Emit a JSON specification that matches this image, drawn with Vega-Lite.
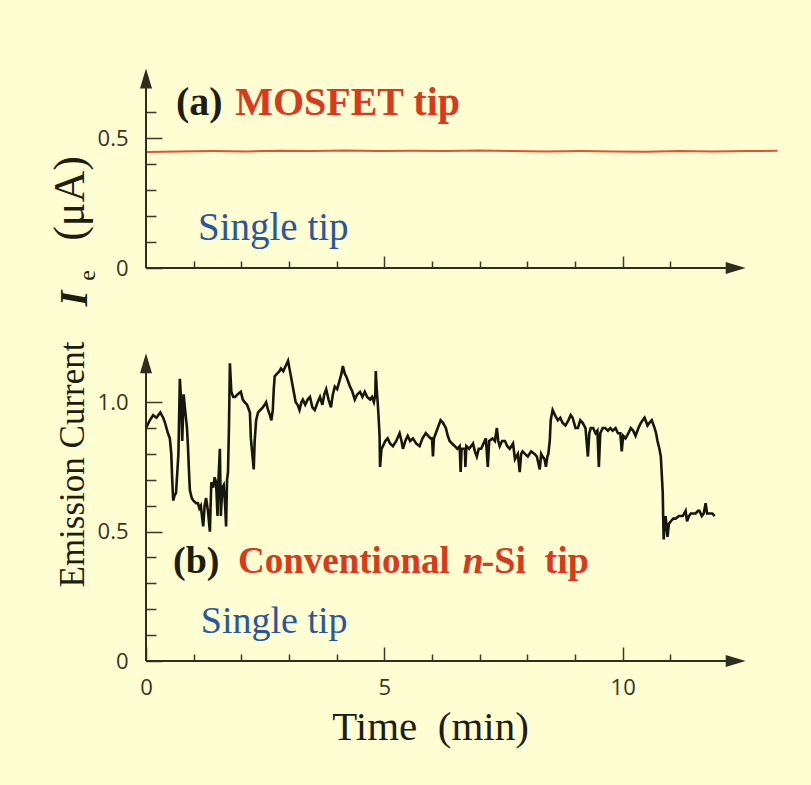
{
  "$schema": "https://vega.github.io/schema/vega-lite/v6.json",
  "background": "#fffdd2",
  "padding": {"left": 48, "top": 68, "right": 29, "bottom": 41},
  "spacing": 85,
  "bounds": "flush",
  "datasets": {
    "mosfet": [
      {"t": 0.0, "v": 0.447}, {"t": 0.7, "v": 0.449}, {"t": 1.4, "v": 0.450}, {"t": 2.1, "v": 0.449},
      {"t": 2.8, "v": 0.451}, {"t": 3.5, "v": 0.450}, {"t": 4.2, "v": 0.452}, {"t": 4.9, "v": 0.450},
      {"t": 5.6, "v": 0.451}, {"t": 6.3, "v": 0.450}, {"t": 7.0, "v": 0.452}, {"t": 7.7, "v": 0.450},
      {"t": 8.4, "v": 0.449}, {"t": 9.1, "v": 0.450}, {"t": 9.8, "v": 0.449}, {"t": 10.5, "v": 0.448},
      {"t": 11.2, "v": 0.450}, {"t": 11.9, "v": 0.449}, {"t": 12.6, "v": 0.450}, {"t": 13.25, "v": 0.451}
    ],
    "trace": [
      {"t": 0.00, "v": 0.90}, {"t": 0.08, "v": 0.93}, {"t": 0.15, "v": 0.95}, {"t": 0.22, "v": 0.94},
      {"t": 0.30, "v": 0.96}, {"t": 0.36, "v": 0.94}, {"t": 0.40, "v": 0.92}, {"t": 0.46, "v": 0.88},
      {"t": 0.50, "v": 0.86}, {"t": 0.53, "v": 0.80}, {"t": 0.55, "v": 0.70}, {"t": 0.57, "v": 0.62},
      {"t": 0.60, "v": 0.64}, {"t": 0.63, "v": 0.65}, {"t": 0.68, "v": 0.80}, {"t": 0.71, "v": 1.09},
      {"t": 0.74, "v": 1.00}, {"t": 0.76, "v": 0.85}, {"t": 0.79, "v": 1.03}, {"t": 0.82, "v": 0.97},
      {"t": 0.86, "v": 0.90}, {"t": 0.88, "v": 0.83}, {"t": 0.90, "v": 0.74}, {"t": 0.92, "v": 0.66},
      {"t": 0.96, "v": 0.63}, {"t": 0.99, "v": 0.62}, {"t": 1.05, "v": 0.61}, {"t": 1.09, "v": 0.61},
      {"t": 1.12, "v": 0.59}, {"t": 1.15, "v": 0.60}, {"t": 1.18, "v": 0.55}, {"t": 1.20, "v": 0.52},
      {"t": 1.23, "v": 0.60}, {"t": 1.26, "v": 0.63}, {"t": 1.30, "v": 0.58}, {"t": 1.34, "v": 0.50},
      {"t": 1.37, "v": 0.69}, {"t": 1.41, "v": 0.67}, {"t": 1.44, "v": 0.71}, {"t": 1.47, "v": 0.69},
      {"t": 1.50, "v": 0.56}, {"t": 1.52, "v": 0.70}, {"t": 1.55, "v": 0.82}, {"t": 1.57, "v": 0.56},
      {"t": 1.60, "v": 0.67}, {"t": 1.63, "v": 0.68}, {"t": 1.66, "v": 0.60}, {"t": 1.68, "v": 0.52},
      {"t": 1.70, "v": 0.70}, {"t": 1.72, "v": 0.73}, {"t": 1.74, "v": 0.90}, {"t": 1.76, "v": 1.15},
      {"t": 1.79, "v": 1.04}, {"t": 1.83, "v": 1.02}, {"t": 1.87, "v": 1.02}, {"t": 1.92, "v": 1.03},
      {"t": 1.99, "v": 1.04}, {"t": 2.03, "v": 1.01}, {"t": 2.07, "v": 1.00}, {"t": 2.12, "v": 0.99},
      {"t": 2.18, "v": 0.96}, {"t": 2.20, "v": 0.86}, {"t": 2.23, "v": 0.80}, {"t": 2.26, "v": 0.74},
      {"t": 2.28, "v": 0.85}, {"t": 2.31, "v": 0.93}, {"t": 2.35, "v": 0.96}, {"t": 2.40, "v": 0.97},
      {"t": 2.45, "v": 0.98}, {"t": 2.49, "v": 0.99}, {"t": 2.52, "v": 1.00}, {"t": 2.56, "v": 0.97},
      {"t": 2.60, "v": 0.95}, {"t": 2.63, "v": 0.93}, {"t": 2.66, "v": 0.97}, {"t": 2.68, "v": 1.05},
      {"t": 2.70, "v": 1.10}, {"t": 2.75, "v": 1.11}, {"t": 2.80, "v": 1.12}, {"t": 2.83, "v": 1.13},
      {"t": 2.88, "v": 1.12}, {"t": 2.93, "v": 1.14}, {"t": 2.98, "v": 1.16}, {"t": 3.02, "v": 1.12},
      {"t": 3.05, "v": 1.09}, {"t": 3.08, "v": 1.06}, {"t": 3.11, "v": 1.03}, {"t": 3.14, "v": 1.00},
      {"t": 3.18, "v": 0.99}, {"t": 3.22, "v": 0.97}, {"t": 3.26, "v": 1.00}, {"t": 3.29, "v": 1.01},
      {"t": 3.34, "v": 0.99}, {"t": 3.39, "v": 1.01}, {"t": 3.44, "v": 1.02}, {"t": 3.49, "v": 0.98},
      {"t": 3.54, "v": 0.97}, {"t": 3.60, "v": 1.00}, {"t": 3.65, "v": 1.02}, {"t": 3.70, "v": 0.99},
      {"t": 3.74, "v": 1.03}, {"t": 3.78, "v": 1.05}, {"t": 3.83, "v": 1.01}, {"t": 3.88, "v": 0.98},
      {"t": 3.92, "v": 1.03}, {"t": 3.96, "v": 1.06}, {"t": 4.01, "v": 1.05}, {"t": 4.07, "v": 1.09},
      {"t": 4.10, "v": 1.11}, {"t": 4.13, "v": 1.14}, {"t": 4.17, "v": 1.11}, {"t": 4.20, "v": 1.10},
      {"t": 4.24, "v": 1.08}, {"t": 4.28, "v": 1.06}, {"t": 4.33, "v": 1.04}, {"t": 4.38, "v": 1.01},
      {"t": 4.43, "v": 1.03}, {"t": 4.49, "v": 1.04}, {"t": 4.54, "v": 1.02}, {"t": 4.59, "v": 1.04},
      {"t": 4.64, "v": 1.02}, {"t": 4.70, "v": 1.01}, {"t": 4.74, "v": 1.02}, {"t": 4.78, "v": 1.00},
      {"t": 4.81, "v": 1.03}, {"t": 4.82, "v": 1.12}, {"t": 4.84, "v": 1.05}, {"t": 4.86, "v": 1.00},
      {"t": 4.88, "v": 0.94}, {"t": 4.90, "v": 0.87}, {"t": 4.91, "v": 0.75}, {"t": 4.94, "v": 0.82},
      {"t": 4.97, "v": 0.83}, {"t": 5.02, "v": 0.85}, {"t": 5.07, "v": 0.86}, {"t": 5.12, "v": 0.84},
      {"t": 5.18, "v": 0.83}, {"t": 5.25, "v": 0.85}, {"t": 5.32, "v": 0.88}, {"t": 5.36, "v": 0.85},
      {"t": 5.39, "v": 0.82}, {"t": 5.44, "v": 0.85}, {"t": 5.49, "v": 0.87}, {"t": 5.54, "v": 0.85},
      {"t": 5.60, "v": 0.86}, {"t": 5.67, "v": 0.84}, {"t": 5.74, "v": 0.83}, {"t": 5.80, "v": 0.86},
      {"t": 5.87, "v": 0.88}, {"t": 5.92, "v": 0.87}, {"t": 5.97, "v": 0.86}, {"t": 6.00, "v": 0.86},
      {"t": 6.02, "v": 0.79}, {"t": 6.04, "v": 0.86}, {"t": 6.06, "v": 0.87}, {"t": 6.12, "v": 0.90},
      {"t": 6.18, "v": 0.93}, {"t": 6.23, "v": 0.92}, {"t": 6.29, "v": 0.90}, {"t": 6.33, "v": 0.87},
      {"t": 6.37, "v": 0.85}, {"t": 6.42, "v": 0.84}, {"t": 6.48, "v": 0.83}, {"t": 6.53, "v": 0.82},
      {"t": 6.58, "v": 0.83}, {"t": 6.60, "v": 0.73}, {"t": 6.62, "v": 0.82}, {"t": 6.69, "v": 0.82},
      {"t": 6.70, "v": 0.75}, {"t": 6.72, "v": 0.83}, {"t": 6.78, "v": 0.82}, {"t": 6.86, "v": 0.84},
      {"t": 6.90, "v": 0.81}, {"t": 6.94, "v": 0.79}, {"t": 6.98, "v": 0.82}, {"t": 7.03, "v": 0.82},
      {"t": 7.08, "v": 0.84}, {"t": 7.13, "v": 0.86}, {"t": 7.17, "v": 0.75}, {"t": 7.20, "v": 0.85},
      {"t": 7.27, "v": 0.86}, {"t": 7.32, "v": 0.85}, {"t": 7.36, "v": 0.90}, {"t": 7.39, "v": 0.85},
      {"t": 7.42, "v": 0.83}, {"t": 7.47, "v": 0.85}, {"t": 7.53, "v": 0.85}, {"t": 7.58, "v": 0.83},
      {"t": 7.63, "v": 0.82}, {"t": 7.70, "v": 0.84}, {"t": 7.74, "v": 0.78}, {"t": 7.80, "v": 0.80},
      {"t": 7.84, "v": 0.73}, {"t": 7.87, "v": 0.80}, {"t": 7.90, "v": 0.81}, {"t": 7.95, "v": 0.80},
      {"t": 8.01, "v": 0.79}, {"t": 8.08, "v": 0.81}, {"t": 8.15, "v": 0.80}, {"t": 8.20, "v": 0.79},
      {"t": 8.26, "v": 0.74}, {"t": 8.29, "v": 0.80}, {"t": 8.32, "v": 0.79}, {"t": 8.36, "v": 0.78},
      {"t": 8.39, "v": 0.75}, {"t": 8.42, "v": 0.79}, {"t": 8.44, "v": 0.80}, {"t": 8.47, "v": 0.85},
      {"t": 8.49, "v": 0.93}, {"t": 8.53, "v": 0.97}, {"t": 8.58, "v": 0.95}, {"t": 8.64, "v": 0.93},
      {"t": 8.69, "v": 0.94}, {"t": 8.74, "v": 0.92}, {"t": 8.80, "v": 0.91}, {"t": 8.86, "v": 0.93},
      {"t": 8.91, "v": 0.95}, {"t": 8.95, "v": 0.94}, {"t": 9.01, "v": 0.90}, {"t": 9.06, "v": 0.90},
      {"t": 9.11, "v": 0.93}, {"t": 9.16, "v": 0.92}, {"t": 9.22, "v": 0.90}, {"t": 9.27, "v": 0.79},
      {"t": 9.30, "v": 0.88}, {"t": 9.33, "v": 0.90}, {"t": 9.38, "v": 0.90}, {"t": 9.43, "v": 0.88},
      {"t": 9.47, "v": 0.89}, {"t": 9.50, "v": 0.75}, {"t": 9.53, "v": 0.88}, {"t": 9.58, "v": 0.90},
      {"t": 9.63, "v": 0.90}, {"t": 9.69, "v": 0.89}, {"t": 9.74, "v": 0.90}, {"t": 9.79, "v": 0.89},
      {"t": 9.85, "v": 0.90}, {"t": 9.90, "v": 0.88}, {"t": 9.95, "v": 0.88}, {"t": 9.98, "v": 0.81},
      {"t": 10.01, "v": 0.87}, {"t": 10.06, "v": 0.86}, {"t": 10.12, "v": 0.88}, {"t": 10.17, "v": 0.90},
      {"t": 10.22, "v": 0.89}, {"t": 10.27, "v": 0.87}, {"t": 10.33, "v": 0.90}, {"t": 10.38, "v": 0.92},
      {"t": 10.42, "v": 0.93}, {"t": 10.46, "v": 0.94}, {"t": 10.52, "v": 0.91}, {"t": 10.56, "v": 0.92},
      {"t": 10.61, "v": 0.93}, {"t": 10.67, "v": 0.90}, {"t": 10.70, "v": 0.88}, {"t": 10.73, "v": 0.85},
      {"t": 10.77, "v": 0.82}, {"t": 10.80, "v": 0.79}, {"t": 10.82, "v": 0.72}, {"t": 10.84, "v": 0.65},
      {"t": 10.85, "v": 0.55}, {"t": 10.86, "v": 0.47}, {"t": 10.88, "v": 0.53}, {"t": 10.90, "v": 0.56},
      {"t": 10.92, "v": 0.52}, {"t": 10.94, "v": 0.48}, {"t": 10.97, "v": 0.53}, {"t": 11.01, "v": 0.54},
      {"t": 11.06, "v": 0.55}, {"t": 11.11, "v": 0.55}, {"t": 11.18, "v": 0.56}, {"t": 11.26, "v": 0.56},
      {"t": 11.32, "v": 0.58}, {"t": 11.35, "v": 0.54}, {"t": 11.39, "v": 0.56}, {"t": 11.43, "v": 0.57},
      {"t": 11.48, "v": 0.57}, {"t": 11.53, "v": 0.57}, {"t": 11.58, "v": 0.58}, {"t": 11.61, "v": 0.58},
      {"t": 11.66, "v": 0.56}, {"t": 11.70, "v": 0.57}, {"t": 11.74, "v": 0.61}, {"t": 11.77, "v": 0.57},
      {"t": 11.82, "v": 0.57}, {"t": 11.88, "v": 0.57}, {"t": 11.93, "v": 0.56}
    ]
  },
  "vconcat": [
    {
      "width": 634,
      "height": 200,
      "resolve": {"axis": {"x": "independent", "y": "independent"}},
      "layer": [
        {
          "data": {"name": "mosfet"},
          "mark": {"type": "line", "color": "#e2532c", "strokeWidth": 2, "clip": false},
          "encoding": {
            "x": {"field": "t", "type": "quantitative", "scale": {"domain": [0, 13.3], "nice": false, "zero": false},
                  "axis": {"orient": "bottom", "values": [1, 2, 3, 4, 6, 7, 8, 9, 11], "tickSize": -7, "labels": false, "title": null}},
            "y": {"field": "v", "type": "quantitative", "scale": {"domain": [0, 0.77], "nice": false},
                  "axis": {"orient": "left", "values": [0.1, 0.2, 0.3, 0.4, 0.6], "tickSize": -10, "labels": false,
                           "title": "e", "titleFontSize": 24, "titleX": -52, "titleY": 207,
                           "titleAngle": -90, "titleBaseline": "alphabetic", "titleAlign": "center"}}
          }
        },
        {
          "data": {"values": [{}]},
          "mark": {"type": "rule", "color": "#2e2e1e", "strokeWidth": 2},
          "encoding": {
            "x": {"datum": 0, "type": "quantitative",
                  "axis": {"orient": "bottom", "values": [5, 10], "tickSize": -12, "labels": false, "title": null}},
            "x2": {"datum": 12.2},
            "y": {"datum": 0, "type": "quantitative",
                  "axis": {"orient": "left", "values": [0, 0.5], "tickSize": -16, "labelPadding": 34,
                           "labelExpr": "datum.value == 0 ? '0' : format(datum.value, '.1f')",
                           "title": "(μA)", "titleFontSize": 44, "titleX": -63, "titleY": 130,
                           "titleAngle": -90, "titleBaseline": "alphabetic", "titleAlign": "center"}}
          }
        },
        {
          "data": {"values": [{}]},
          "mark": {"type": "rule", "color": "#2e2e1e", "strokeWidth": 2},
          "encoding": {
            "x": {"datum": 0, "type": "quantitative", "axis": null},
            "y": {"datum": 0, "type": "quantitative", "axis": null},
            "y2": {"datum": 0.71}
          }
        },
        {
          "data": {"values": [{}]},
          "mark": {"type": "point", "shape": "M0,-1L0.6,1L-0.6,1Z", "filled": true, "size": 400, "color": "#2e2e1e", "opacity": 1},
          "encoding": {
            "x": {"datum": 0, "type": "quantitative", "axis": null},
            "y": {"datum": 0.73, "type": "quantitative", "axis": null}
          }
        },
        {
          "data": {"values": [{}]},
          "mark": {"type": "point", "shape": "M1,0L-1,-0.6L-1,0.6Z", "filled": true, "size": 400, "color": "#2e2e1e", "opacity": 1, "clip": false},
          "encoding": {
            "x": {"datum": 12.37, "type": "quantitative", "axis": null},
            "y": {"datum": 0, "type": "quantitative", "axis": null}
          }
        },
        {
          "data": {"values": [{}]},
          "mark": {"type": "text", "text": "(a)", "align": "left", "baseline": "middle", "font": "Liberation Serif", "fontWeight": "bold", "fontSize": 40, "color": "#1e1e10"},
          "encoding": {
            "x": {"datum": 0.63, "type": "quantitative", "axis": null},
            "y": {"datum": 0.635, "type": "quantitative", "axis": null}
          }
        },
        {
          "data": {"values": [{}]},
          "mark": {"type": "text", "text": "MOSFET tip", "align": "left", "baseline": "middle", "font": "Liberation Serif", "fontWeight": "bold", "fontSize": 40, "color": "#d83a1e"},
          "encoding": {
            "x": {"datum": 1.87, "type": "quantitative", "axis": null},
            "y": {"datum": 0.635, "type": "quantitative", "axis": null}
          }
        },
        {
          "data": {"values": [{}]},
          "mark": {"type": "text", "text": "Single tip", "align": "left", "baseline": "middle", "font": "Liberation Serif", "fontSize": 39, "color": "#2a55a0"},
          "encoding": {
            "x": {"datum": 1.09, "type": "quantitative", "axis": null},
            "y": {"datum": 0.154, "type": "quantitative", "axis": null}
          }
        }
      ]
    },
    {
      "width": 634,
      "height": 308,
      "resolve": {"axis": {"x": "independent", "y": "independent"}},
      "layer": [
        {
          "data": {"name": "trace"},
          "mark": {"type": "line", "color": "#16160c", "strokeWidth": 2.6},
          "encoding": {
            "x": {"field": "t", "type": "quantitative", "scale": {"domain": [0, 13.3], "nice": false, "zero": false},
                  "axis": {"orient": "bottom", "values": [1, 2, 3, 4, 6, 7, 8, 9, 11], "tickSize": -7, "labels": false, "title": null}},
            "y": {"field": "v", "type": "quantitative", "scale": {"domain": [0, 1.19], "nice": false},
                  "axis": {"orient": "left", "values": [0.1, 0.2, 0.3, 0.4, 0.6, 0.7, 0.8, 0.9], "tickSize": -10, "labels": false,
                           "title": "I", "titleFontSize": 40, "titleFontStyle": "italic", "titleFontWeight": "bold",
                           "titleX": -60, "titleY": -55, "titleAngle": -90, "titleBaseline": "alphabetic", "titleAlign": "center"}}
          }
        },
        {
          "data": {"values": [{}]},
          "mark": {"type": "rule", "color": "#2e2e1e", "strokeWidth": 2},
          "encoding": {
            "x": {"datum": 0, "type": "quantitative",
                  "axis": {"orient": "bottom", "values": [0, 5, 10], "tickSize": -14, "labelPadding": 40, "labelBaseline": "middle",
                           "title": "Time\u00a0\u00a0(min)", "titleFontSize": 41, "titleX": 284, "titleY": 78, "titleBaseline": "alphabetic", "titleAlign": "center"}},
            "x2": {"datum": 12.2},
            "y": {"datum": 0, "type": "quantitative",
                  "axis": {"orient": "left", "values": [0, 0.5, 1.0], "tickSize": -16, "labelPadding": 34,
                           "labelExpr": "datum.value == 0 ? '0' : format(datum.value, '.1f')",
                           "title": "Emission Current", "titleFontSize": 35, "titleX": -63, "titleY": 111,
                           "titleAngle": -90, "titleBaseline": "alphabetic", "titleAlign": "center"}}
          }
        },
        {
          "data": {"values": [{}]},
          "mark": {"type": "rule", "color": "#2e2e1e", "strokeWidth": 2},
          "encoding": {
            "x": {"datum": 0, "type": "quantitative", "axis": null},
            "y": {"datum": 0, "type": "quantitative", "axis": null},
            "y2": {"datum": 1.13}
          }
        },
        {
          "data": {"values": [{}]},
          "mark": {"type": "point", "shape": "M0,-1L0.6,1L-0.6,1Z", "filled": true, "size": 400, "color": "#2e2e1e", "opacity": 1},
          "encoding": {
            "x": {"datum": 0, "type": "quantitative", "axis": null},
            "y": {"datum": 1.15, "type": "quantitative", "axis": null}
          }
        },
        {
          "data": {"values": [{}]},
          "mark": {"type": "point", "shape": "M1,0L-1,-0.6L-1,0.6Z", "filled": true, "size": 400, "color": "#2e2e1e", "opacity": 1},
          "encoding": {
            "x": {"datum": 12.37, "type": "quantitative", "axis": null},
            "y": {"datum": 0, "type": "quantitative", "axis": null}
          }
        },
        {
          "data": {"values": [{}]},
          "mark": {"type": "text", "text": "(b)", "align": "left", "baseline": "middle", "font": "Liberation Serif", "fontWeight": "bold", "fontSize": 38, "color": "#1e1e10"},
          "encoding": {
            "x": {"datum": 0.566, "type": "quantitative", "axis": null},
            "y": {"datum": 0.382, "type": "quantitative", "axis": null}
          }
        },
        {
          "data": {"values": [{}]},
          "mark": {"type": "text", "text": "Conventional", "align": "left", "baseline": "middle", "font": "Liberation Serif", "fontWeight": "bold", "fontSize": 37, "color": "#d83a1e"},
          "encoding": {
            "x": {"datum": 1.93, "type": "quantitative", "axis": null},
            "y": {"datum": 0.382, "type": "quantitative", "axis": null}
          }
        },
        {
          "data": {"values": [{}]},
          "mark": {"type": "text", "text": "n", "align": "left", "baseline": "middle", "font": "Liberation Serif", "fontWeight": "bold", "fontStyle": "italic", "fontSize": 38, "color": "#d83a1e"},
          "encoding": {
            "x": {"datum": 6.64, "type": "quantitative", "axis": null},
            "y": {"datum": 0.382, "type": "quantitative", "axis": null}
          }
        },
        {
          "data": {"values": [{}]},
          "mark": {"type": "text", "text": "-Si", "align": "left", "baseline": "middle", "font": "Liberation Serif", "fontWeight": "bold", "fontSize": 38, "color": "#d83a1e"},
          "encoding": {
            "x": {"datum": 7.04, "type": "quantitative", "axis": null},
            "y": {"datum": 0.382, "type": "quantitative", "axis": null}
          }
        },
        {
          "data": {"values": [{}]},
          "mark": {"type": "text", "text": "tip", "align": "left", "baseline": "middle", "font": "Liberation Serif", "fontWeight": "bold", "fontSize": 38, "color": "#d83a1e"},
          "encoding": {
            "x": {"datum": 8.36, "type": "quantitative", "axis": null},
            "y": {"datum": 0.382, "type": "quantitative", "axis": null}
          }
        },
        {
          "data": {"values": [{}]},
          "mark": {"type": "text", "text": "Single tip", "align": "left", "baseline": "middle", "font": "Liberation Serif", "fontSize": 38, "color": "#2a55a0"},
          "encoding": {
            "x": {"datum": 1.15, "type": "quantitative", "axis": null},
            "y": {"datum": 0.15, "type": "quantitative", "axis": null}
          }
        }
      ]
    }
  ],
  "config": {
    "view": {"stroke": null},
    "axis": {
      "domain": false,
      "grid": false,
      "tickColor": "#3a3a28",
      "tickWidth": 1.5,
      "labelFont": "Open Sans",
      "labelFontSize": 22,
      "labelColor": "#35351f",
      "labelFlush": false,
      "labelOverlap": false,
      "labelBound": false,
      "titleFont": "Liberation Serif",
      "titleFontWeight": "normal",
      "titleColor": "#1e1e10"
    }
  }
}
